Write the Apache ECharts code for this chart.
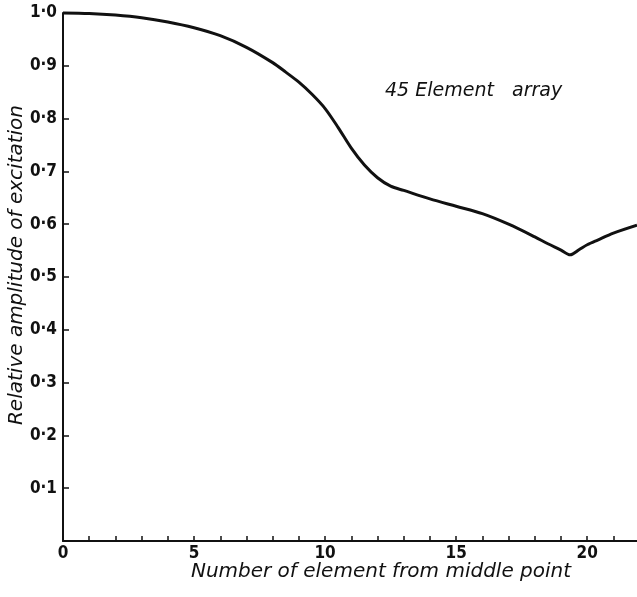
<!DOCTYPE html>
<html>
<head>
<meta charset="utf-8">
<script src="https://cdn.jsdelivr.net/npm/echarts@6/dist/echarts.min.js"></script>
<style>
  html, body { margin: 0; padding: 0; background: #fff; }
  #chart { width: 637px; height: 597px; }
</style>
</head>
<body>
<div id="chart"></div>
<script>
// Element number (from the middle of the array) and relative excitation amplitude
const elementNumber = [0, 1, 2, 3, 4, 5, 6, 7, 8, 8.5, 9, 9.5, 10, 10.5, 11, 11.5, 12, 12.5, 13, 14, 15, 16, 17, 18, 18.5, 19, 19.35, 19.7, 20, 20.4, 21, 21.9];
const amplitude     = [1.0, 0.999, 0.996, 0.991, 0.983, 0.972, 0.957, 0.935, 0.906, 0.888, 0.869, 0.846, 0.819, 0.783, 0.744, 0.712, 0.688, 0.672, 0.664, 0.648, 0.634, 0.62, 0.6, 0.576, 0.563, 0.551, 0.542, 0.552, 0.561, 0.57, 0.583, 0.598];

const yTickLabels = { 1: '1·0', 0.9: '0·9', 0.8: '0·8', 0.7: '0·7', 0.6: '0·6', 0.5: '0·5', 0.4: '0·4', 0.3: '0·3', 0.2: '0·2', 0.1: '0·1' };
const xTickLabels = [0, 5, 10, 15, 20];

const annotation = '45 Element   array';
const xTitle = 'Number of element from middle point';
const yTitle = 'Relative amplitude of excitation';

const ink = '#111';
const labelFont = "'Liberation Sans Narrow', 'DejaVu Sans Condensed', 'Liberation Sans', sans-serif";
const handFont = "'DejaVu Sans', sans-serif";

const chart = echarts.init(document.getElementById('chart'), null, { renderer: 'canvas' });

chart.setOption({
  animation: false,
  backgroundColor: '#fff',
  grid: { left: 63, top: 13, right: 0, bottom: 56, containLabel: false },
  xAxis: {
    type: 'value',
    min: 0,
    max: 21.9,
    interval: 1,
    splitLine: { show: false },
    axisLine: { show: true, onZero: false, lineStyle: { color: ink, width: 2 } },
    axisTick: { show: true, inside: true, length: 5, lineStyle: { color: ink, width: 1.5 } },
    axisLabel: {
      showMaxLabel: false,
      margin: 4,
      color: ink,
      fontFamily: labelFont,
      fontWeight: 'bold',
      fontSize: 17,
      formatter: v => (xTickLabels.indexOf(v) >= 0 ? String(v) : '')
    }
  },
  yAxis: {
    type: 'value',
    min: 0,
    max: 1,
    interval: 0.1,
    splitLine: { show: false },
    axisLine: { show: true, lineStyle: { color: ink, width: 2 } },
    axisTick: { show: true, inside: true, length: 6, lineStyle: { color: ink, width: 1.5 } },
    axisLabel: {
      margin: 6,
      color: ink,
      fontFamily: labelFont,
      fontWeight: 'bold',
      fontSize: 17,
      formatter: v => yTickLabels[Math.round(v * 10) / 10] || ''
    }
  },
  graphic: [
    {
      type: 'text',
      left: 385,
      top: 82,
      style: { text: annotation, font: 'italic 19px ' + handFont, fill: ink }
    },
    {
      type: 'text',
      x: 381,
      y: 572,
      style: { text: xTitle, font: 'italic 20px ' + handFont, fill: ink, align: 'center', verticalAlign: 'middle' }
    },
    {
      type: 'text',
      x: 17,
      y: 265,
      rotation: Math.PI / 2,
      style: { text: yTitle, font: 'italic 20px ' + handFont, fill: ink, align: 'center', verticalAlign: 'middle' }
    }
  ],
  series: [
    {
      type: 'line',
      data: elementNumber.map((x, i) => [x, amplitude[i]]),
      smooth: 0.3,
      showSymbol: false,
      clip: false,
      lineStyle: { color: ink, width: 3 }
    }
  ]
});
</script>
</body>
</html>
